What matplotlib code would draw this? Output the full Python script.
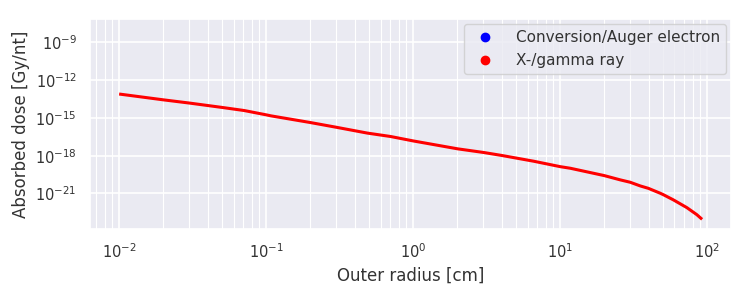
import matplotlib
matplotlib.use("Agg")
import matplotlib.pyplot as plt
from matplotlib.lines import Line2D
import seaborn as sns

# Data (log10 values)
log_radius = [-2.0, -1.70, -1.52, -1.296, -1.149, -1.0, -0.968, -0.70, -0.526, -0.311,
              -0.153, 0.0, 0.304, 0.481, 0.606, 0.82, 1.0, 1.07, 1.30, 1.409,
              1.477, 1.545, 1.60, 1.681, 1.703, 1.771, 1.862, 1.93, 1.966]
log_dose = [-13.11, -13.57, -13.83, -14.18, -14.42, -14.76, -14.84, -15.37, -15.74, -16.21,
            -16.48, -16.83, -17.46, -17.75, -17.99, -18.44, -18.87, -19.0, -19.58, -19.92,
            -20.11, -20.40, -20.59, -20.98, -21.10, -21.51, -22.12, -22.68, -23.05]
radius = [10 ** v for v in log_radius]
dose = [10 ** v for v in log_dose]

series_labels = ["Conversion/Auger electron", "X-/gamma ray"]
series_colors = ["blue", "red"]

sns.set_theme(style="darkgrid")
plt.rcParams['font.family'] = ['DejaVu Sans']

fig = plt.figure(figsize=(7.5, 3.0), dpi=100)
ax = fig.add_axes([0.12, 0.237, 0.855, 0.70])

ax.plot(radius, dose, color="red", lw=2.2, solid_capstyle="butt")
ax.set_xscale("log")
ax.set_yscale("log")
ax.set_ylim(10 ** -23.81, 10 ** -7.15)
ax.grid(True, which="minor", axis="x", color="white", lw=0.8)
ax.grid(True, which="major", color="white", lw=1.2)

ax.set_xlabel("Outer radius [cm]", fontsize=12, color="#333333")
ax.set_ylabel("Absorbed dose [Gy/nt]", fontsize=12, color="#333333")
ax.tick_params(axis="both", labelsize=10.5, labelcolor="#333333")

handles = [Line2D([], [], marker="o", ls="", color=c, markersize=6) for c in series_colors]
leg = ax.legend(handles, series_labels, loc="upper right", fontsize=11,
                handletextpad=1.0, borderaxespad=0.35)
for t in leg.get_texts():
    t.set_color("#333333")

fig.savefig("out.png", dpi=100)
